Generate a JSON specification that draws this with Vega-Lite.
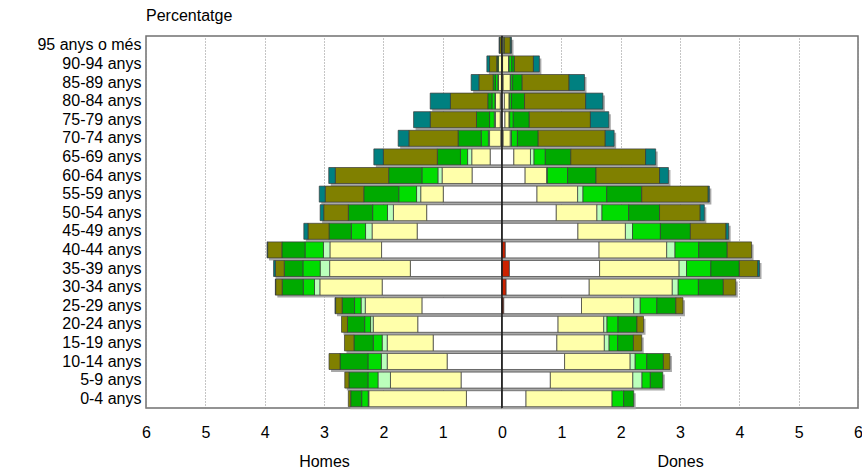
{
  "$schema": "https://vega.github.io/schema/vega-lite/v6.json",
  "padding": {"left": 5, "top": 7, "right": 5, "bottom": 0},
  "spacing": 0,
  "bounds": "flush",
  "config": {
    "font": "Liberation Sans",
    "view": {"stroke": "#707070", "strokeWidth": 1.5},
    "axis": {"labelFont": "Liberation Sans", "labelFontSize": 16, "labelColor": "#000000", "titleFont": "Liberation Sans", "titleFontSize": 16, "titleFontWeight": "normal", "titleColor": "#000000", "domain": false, "ticks": false},
    "title": {"font": "Liberation Sans", "fontSize": 16, "fontWeight": "normal", "color": "#000000"}
  },
  "datasets": {
    "pop": [
      {"age":"95 anys o més","sex":"Homes","cat":"c2","pct":0.01},
      {"age":"95 anys o més","sex":"Homes","cat":"c6","pct":0.03},
      {"age":"95 anys o més","sex":"Homes","cat":"c7","pct":0.01},
      {"age":"90-94 anys","sex":"Homes","cat":"c2","pct":0.06},
      {"age":"90-94 anys","sex":"Homes","cat":"c4","pct":0.015},
      {"age":"90-94 anys","sex":"Homes","cat":"c5","pct":0.015},
      {"age":"90-94 anys","sex":"Homes","cat":"c6","pct":0.12},
      {"age":"90-94 anys","sex":"Homes","cat":"c7","pct":0.045},
      {"age":"85-89 anys","sex":"Homes","cat":"c1","pct":0.01},
      {"age":"85-89 anys","sex":"Homes","cat":"c2","pct":0.05},
      {"age":"85-89 anys","sex":"Homes","cat":"c3","pct":0.01},
      {"age":"85-89 anys","sex":"Homes","cat":"c4","pct":0.04},
      {"age":"85-89 anys","sex":"Homes","cat":"c5","pct":0.04},
      {"age":"85-89 anys","sex":"Homes","cat":"c6","pct":0.24},
      {"age":"85-89 anys","sex":"Homes","cat":"c7","pct":0.13},
      {"age":"80-84 anys","sex":"Homes","cat":"c1","pct":0.03},
      {"age":"80-84 anys","sex":"Homes","cat":"c2","pct":0.08},
      {"age":"80-84 anys","sex":"Homes","cat":"c3","pct":0.01},
      {"age":"80-84 anys","sex":"Homes","cat":"c4","pct":0.05},
      {"age":"80-84 anys","sex":"Homes","cat":"c5","pct":0.07},
      {"age":"80-84 anys","sex":"Homes","cat":"c6","pct":0.63},
      {"age":"80-84 anys","sex":"Homes","cat":"c7","pct":0.34},
      {"age":"75-79 anys","sex":"Homes","cat":"c1","pct":0.03},
      {"age":"75-79 anys","sex":"Homes","cat":"c2","pct":0.08},
      {"age":"75-79 anys","sex":"Homes","cat":"c3","pct":0.02},
      {"age":"75-79 anys","sex":"Homes","cat":"c4","pct":0.08},
      {"age":"75-79 anys","sex":"Homes","cat":"c5","pct":0.22},
      {"age":"75-79 anys","sex":"Homes","cat":"c6","pct":0.78},
      {"age":"75-79 anys","sex":"Homes","cat":"c7","pct":0.28},
      {"age":"70-74 anys","sex":"Homes","cat":"c1","pct":0.02},
      {"age":"70-74 anys","sex":"Homes","cat":"c2","pct":0.19},
      {"age":"70-74 anys","sex":"Homes","cat":"c3","pct":0.02},
      {"age":"70-74 anys","sex":"Homes","cat":"c4","pct":0.12},
      {"age":"70-74 anys","sex":"Homes","cat":"c5","pct":0.39},
      {"age":"70-74 anys","sex":"Homes","cat":"c6","pct":0.83},
      {"age":"70-74 anys","sex":"Homes","cat":"c7","pct":0.18},
      {"age":"65-69 anys","sex":"Homes","cat":"c1","pct":0.20},
      {"age":"65-69 anys","sex":"Homes","cat":"c2","pct":0.31},
      {"age":"65-69 anys","sex":"Homes","cat":"c3","pct":0.07},
      {"age":"65-69 anys","sex":"Homes","cat":"c4","pct":0.12},
      {"age":"65-69 anys","sex":"Homes","cat":"c5","pct":0.39},
      {"age":"65-69 anys","sex":"Homes","cat":"c6","pct":0.91},
      {"age":"65-69 anys","sex":"Homes","cat":"c7","pct":0.16},
      {"age":"60-64 anys","sex":"Homes","cat":"c1","pct":0.505},
      {"age":"60-64 anys","sex":"Homes","cat":"c2","pct":0.505},
      {"age":"60-64 anys","sex":"Homes","cat":"c3","pct":0.07},
      {"age":"60-64 anys","sex":"Homes","cat":"c4","pct":0.27},
      {"age":"60-64 anys","sex":"Homes","cat":"c5","pct":0.56},
      {"age":"60-64 anys","sex":"Homes","cat":"c6","pct":0.90},
      {"age":"60-64 anys","sex":"Homes","cat":"c7","pct":0.11},
      {"age":"55-59 anys","sex":"Homes","cat":"c1","pct":0.99},
      {"age":"55-59 anys","sex":"Homes","cat":"c2","pct":0.38},
      {"age":"55-59 anys","sex":"Homes","cat":"c3","pct":0.07},
      {"age":"55-59 anys","sex":"Homes","cat":"c4","pct":0.30},
      {"age":"55-59 anys","sex":"Homes","cat":"c5","pct":0.59},
      {"age":"55-59 anys","sex":"Homes","cat":"c6","pct":0.65},
      {"age":"55-59 anys","sex":"Homes","cat":"c7","pct":0.10},
      {"age":"50-54 anys","sex":"Homes","cat":"c1","pct":1.27},
      {"age":"50-54 anys","sex":"Homes","cat":"c2","pct":0.56},
      {"age":"50-54 anys","sex":"Homes","cat":"c3","pct":0.10},
      {"age":"50-54 anys","sex":"Homes","cat":"c4","pct":0.25},
      {"age":"50-54 anys","sex":"Homes","cat":"c5","pct":0.41},
      {"age":"50-54 anys","sex":"Homes","cat":"c6","pct":0.415},
      {"age":"50-54 anys","sex":"Homes","cat":"c7","pct":0.06},
      {"age":"45-49 anys","sex":"Homes","cat":"c1","pct":1.43},
      {"age":"45-49 anys","sex":"Homes","cat":"c2","pct":0.76},
      {"age":"45-49 anys","sex":"Homes","cat":"c3","pct":0.11},
      {"age":"45-49 anys","sex":"Homes","cat":"c4","pct":0.24},
      {"age":"45-49 anys","sex":"Homes","cat":"c5","pct":0.375},
      {"age":"45-49 anys","sex":"Homes","cat":"c6","pct":0.355},
      {"age":"45-49 anys","sex":"Homes","cat":"c7","pct":0.07},
      {"age":"40-44 anys","sex":"Homes","cat":"c1","pct":2.03},
      {"age":"40-44 anys","sex":"Homes","cat":"c2","pct":0.87},
      {"age":"40-44 anys","sex":"Homes","cat":"c3","pct":0.11},
      {"age":"40-44 anys","sex":"Homes","cat":"c4","pct":0.31},
      {"age":"40-44 anys","sex":"Homes","cat":"c5","pct":0.39},
      {"age":"40-44 anys","sex":"Homes","cat":"c6","pct":0.24},
      {"age":"40-44 anys","sex":"Homes","cat":"c7","pct":0.01},
      {"age":"35-39 anys","sex":"Homes","cat":"c1","pct":1.545},
      {"age":"35-39 anys","sex":"Homes","cat":"c2","pct":1.36},
      {"age":"35-39 anys","sex":"Homes","cat":"c3","pct":0.16},
      {"age":"35-39 anys","sex":"Homes","cat":"c4","pct":0.29},
      {"age":"35-39 anys","sex":"Homes","cat":"c5","pct":0.315},
      {"age":"35-39 anys","sex":"Homes","cat":"c6","pct":0.15},
      {"age":"35-39 anys","sex":"Homes","cat":"c7","pct":0.03},
      {"age":"30-34 anys","sex":"Homes","cat":"c1","pct":2.02},
      {"age":"30-34 anys","sex":"Homes","cat":"c2","pct":1.05},
      {"age":"30-34 anys","sex":"Homes","cat":"c3","pct":0.09},
      {"age":"30-34 anys","sex":"Homes","cat":"c4","pct":0.19},
      {"age":"30-34 anys","sex":"Homes","cat":"c5","pct":0.355},
      {"age":"30-34 anys","sex":"Homes","cat":"c6","pct":0.11},
      {"age":"30-34 anys","sex":"Homes","cat":"c7","pct":0.005},
      {"age":"25-29 anys","sex":"Homes","cat":"c1","pct":1.35},
      {"age":"25-29 anys","sex":"Homes","cat":"c2","pct":0.955},
      {"age":"25-29 anys","sex":"Homes","cat":"c3","pct":0.07},
      {"age":"25-29 anys","sex":"Homes","cat":"c4","pct":0.11},
      {"age":"25-29 anys","sex":"Homes","cat":"c5","pct":0.21},
      {"age":"25-29 anys","sex":"Homes","cat":"c6","pct":0.11},
      {"age":"25-29 anys","sex":"Homes","cat":"c7","pct":0.01},
      {"age":"20-24 anys","sex":"Homes","cat":"c1","pct":1.42},
      {"age":"20-24 anys","sex":"Homes","cat":"c2","pct":0.75},
      {"age":"20-24 anys","sex":"Homes","cat":"c3","pct":0.045},
      {"age":"20-24 anys","sex":"Homes","cat":"c4","pct":0.10},
      {"age":"20-24 anys","sex":"Homes","cat":"c5","pct":0.29},
      {"age":"20-24 anys","sex":"Homes","cat":"c6","pct":0.10},
      {"age":"15-19 anys","sex":"Homes","cat":"c1","pct":1.16},
      {"age":"15-19 anys","sex":"Homes","cat":"c2","pct":0.775},
      {"age":"15-19 anys","sex":"Homes","cat":"c3","pct":0.085},
      {"age":"15-19 anys","sex":"Homes","cat":"c4","pct":0.15},
      {"age":"15-19 anys","sex":"Homes","cat":"c5","pct":0.325},
      {"age":"15-19 anys","sex":"Homes","cat":"c6","pct":0.16},
      {"age":"10-14 anys","sex":"Homes","cat":"c1","pct":0.925},
      {"age":"10-14 anys","sex":"Homes","cat":"c2","pct":1.01},
      {"age":"10-14 anys","sex":"Homes","cat":"c3","pct":0.10},
      {"age":"10-14 anys","sex":"Homes","cat":"c4","pct":0.225},
      {"age":"10-14 anys","sex":"Homes","cat":"c5","pct":0.47},
      {"age":"10-14 anys","sex":"Homes","cat":"c6","pct":0.185},
      {"age":"5-9 anys","sex":"Homes","cat":"c1","pct":0.69},
      {"age":"5-9 anys","sex":"Homes","cat":"c2","pct":1.19},
      {"age":"5-9 anys","sex":"Homes","cat":"c3","pct":0.21},
      {"age":"5-9 anys","sex":"Homes","cat":"c4","pct":0.17},
      {"age":"5-9 anys","sex":"Homes","cat":"c5","pct":0.32},
      {"age":"5-9 anys","sex":"Homes","cat":"c6","pct":0.07},
      {"age":"0-4 anys","sex":"Homes","cat":"c1","pct":0.60},
      {"age":"0-4 anys","sex":"Homes","cat":"c2","pct":1.645},
      {"age":"0-4 anys","sex":"Homes","cat":"c3","pct":0.01},
      {"age":"0-4 anys","sex":"Homes","cat":"c4","pct":0.11},
      {"age":"0-4 anys","sex":"Homes","cat":"c5","pct":0.185},
      {"age":"0-4 anys","sex":"Homes","cat":"c6","pct":0.04},

      {"age":"95 anys o més","sex":"Dones","cat":"c2","pct":0.03},
      {"age":"95 anys o més","sex":"Dones","cat":"c4","pct":0.01},
      {"age":"95 anys o més","sex":"Dones","cat":"c6","pct":0.10},
      {"age":"95 anys o més","sex":"Dones","cat":"c7","pct":0.02},
      {"age":"90-94 anys","sex":"Dones","cat":"c1","pct":0.01},
      {"age":"90-94 anys","sex":"Dones","cat":"c2","pct":0.10},
      {"age":"90-94 anys","sex":"Dones","cat":"c3","pct":0.01},
      {"age":"90-94 anys","sex":"Dones","cat":"c4","pct":0.045},
      {"age":"90-94 anys","sex":"Dones","cat":"c5","pct":0.045},
      {"age":"90-94 anys","sex":"Dones","cat":"c6","pct":0.32},
      {"age":"90-94 anys","sex":"Dones","cat":"c7","pct":0.10},
      {"age":"85-89 anys","sex":"Dones","cat":"c1","pct":0.02},
      {"age":"85-89 anys","sex":"Dones","cat":"c2","pct":0.12},
      {"age":"85-89 anys","sex":"Dones","cat":"c3","pct":0.01},
      {"age":"85-89 anys","sex":"Dones","cat":"c4","pct":0.03},
      {"age":"85-89 anys","sex":"Dones","cat":"c5","pct":0.16},
      {"age":"85-89 anys","sex":"Dones","cat":"c6","pct":0.79},
      {"age":"85-89 anys","sex":"Dones","cat":"c7","pct":0.26},
      {"age":"80-84 anys","sex":"Dones","cat":"c1","pct":0.04},
      {"age":"80-84 anys","sex":"Dones","cat":"c2","pct":0.08},
      {"age":"80-84 anys","sex":"Dones","cat":"c3","pct":0.01},
      {"age":"80-84 anys","sex":"Dones","cat":"c4","pct":0.03},
      {"age":"80-84 anys","sex":"Dones","cat":"c5","pct":0.22},
      {"age":"80-84 anys","sex":"Dones","cat":"c6","pct":1.03},
      {"age":"80-84 anys","sex":"Dones","cat":"c7","pct":0.29},
      {"age":"75-79 anys","sex":"Dones","cat":"c1","pct":0.05},
      {"age":"75-79 anys","sex":"Dones","cat":"c2","pct":0.07},
      {"age":"75-79 anys","sex":"Dones","cat":"c3","pct":0.01},
      {"age":"75-79 anys","sex":"Dones","cat":"c4","pct":0.06},
      {"age":"75-79 anys","sex":"Dones","cat":"c5","pct":0.27},
      {"age":"75-79 anys","sex":"Dones","cat":"c6","pct":1.03},
      {"age":"75-79 anys","sex":"Dones","cat":"c7","pct":0.31},
      {"age":"70-74 anys","sex":"Dones","cat":"c1","pct":0.02},
      {"age":"70-74 anys","sex":"Dones","cat":"c2","pct":0.12},
      {"age":"70-74 anys","sex":"Dones","cat":"c3","pct":0.02},
      {"age":"70-74 anys","sex":"Dones","cat":"c4","pct":0.10},
      {"age":"70-74 anys","sex":"Dones","cat":"c5","pct":0.35},
      {"age":"70-74 anys","sex":"Dones","cat":"c6","pct":1.13},
      {"age":"70-74 anys","sex":"Dones","cat":"c7","pct":0.15},
      {"age":"65-69 anys","sex":"Dones","cat":"c1","pct":0.20},
      {"age":"65-69 anys","sex":"Dones","cat":"c2","pct":0.28},
      {"age":"65-69 anys","sex":"Dones","cat":"c3","pct":0.06},
      {"age":"65-69 anys","sex":"Dones","cat":"c4","pct":0.19},
      {"age":"65-69 anys","sex":"Dones","cat":"c5","pct":0.43},
      {"age":"65-69 anys","sex":"Dones","cat":"c6","pct":1.26},
      {"age":"65-69 anys","sex":"Dones","cat":"c7","pct":0.17},
      {"age":"60-64 anys","sex":"Dones","cat":"c1","pct":0.39},
      {"age":"60-64 anys","sex":"Dones","cat":"c2","pct":0.365},
      {"age":"60-64 anys","sex":"Dones","cat":"c3","pct":0.01},
      {"age":"60-64 anys","sex":"Dones","cat":"c4","pct":0.34},
      {"age":"60-64 anys","sex":"Dones","cat":"c5","pct":0.48},
      {"age":"60-64 anys","sex":"Dones","cat":"c6","pct":1.07},
      {"age":"60-64 anys","sex":"Dones","cat":"c7","pct":0.15},
      {"age":"55-59 anys","sex":"Dones","cat":"c1","pct":0.59},
      {"age":"55-59 anys","sex":"Dones","cat":"c2","pct":0.685},
      {"age":"55-59 anys","sex":"Dones","cat":"c3","pct":0.09},
      {"age":"55-59 anys","sex":"Dones","cat":"c4","pct":0.40},
      {"age":"55-59 anys","sex":"Dones","cat":"c5","pct":0.59},
      {"age":"55-59 anys","sex":"Dones","cat":"c6","pct":1.12},
      {"age":"55-59 anys","sex":"Dones","cat":"c7","pct":0.02},
      {"age":"50-54 anys","sex":"Dones","cat":"c1","pct":0.915},
      {"age":"50-54 anys","sex":"Dones","cat":"c2","pct":0.685},
      {"age":"50-54 anys","sex":"Dones","cat":"c3","pct":0.085},
      {"age":"50-54 anys","sex":"Dones","cat":"c4","pct":0.45},
      {"age":"50-54 anys","sex":"Dones","cat":"c5","pct":0.52},
      {"age":"50-54 anys","sex":"Dones","cat":"c6","pct":0.685},
      {"age":"50-54 anys","sex":"Dones","cat":"c7","pct":0.07},
      {"age":"45-49 anys","sex":"Dones","cat":"c1","pct":1.28},
      {"age":"45-49 anys","sex":"Dones","cat":"c2","pct":0.80},
      {"age":"45-49 anys","sex":"Dones","cat":"c3","pct":0.12},
      {"age":"45-49 anys","sex":"Dones","cat":"c4","pct":0.47},
      {"age":"45-49 anys","sex":"Dones","cat":"c5","pct":0.505},
      {"age":"45-49 anys","sex":"Dones","cat":"c6","pct":0.60},
      {"age":"45-49 anys","sex":"Dones","cat":"c7","pct":0.045},
      {"age":"40-44 anys","sex":"Dones","cat":"c0","pct":0.056},
      {"age":"40-44 anys","sex":"Dones","cat":"c1","pct":1.58},
      {"age":"40-44 anys","sex":"Dones","cat":"c2","pct":1.14},
      {"age":"40-44 anys","sex":"Dones","cat":"c3","pct":0.14},
      {"age":"40-44 anys","sex":"Dones","cat":"c4","pct":0.40},
      {"age":"40-44 anys","sex":"Dones","cat":"c5","pct":0.48},
      {"age":"40-44 anys","sex":"Dones","cat":"c6","pct":0.41},
      {"age":"35-39 anys","sex":"Dones","cat":"c0","pct":0.125},
      {"age":"35-39 anys","sex":"Dones","cat":"c1","pct":1.52},
      {"age":"35-39 anys","sex":"Dones","cat":"c2","pct":1.34},
      {"age":"35-39 anys","sex":"Dones","cat":"c3","pct":0.125},
      {"age":"35-39 anys","sex":"Dones","cat":"c4","pct":0.41},
      {"age":"35-39 anys","sex":"Dones","cat":"c5","pct":0.48},
      {"age":"35-39 anys","sex":"Dones","cat":"c6","pct":0.31},
      {"age":"35-39 anys","sex":"Dones","cat":"c7","pct":0.03},
      {"age":"30-34 anys","sex":"Dones","cat":"c0","pct":0.07},
      {"age":"30-34 anys","sex":"Dones","cat":"c1","pct":1.40},
      {"age":"30-34 anys","sex":"Dones","cat":"c2","pct":1.40},
      {"age":"30-34 anys","sex":"Dones","cat":"c3","pct":0.10},
      {"age":"30-34 anys","sex":"Dones","cat":"c4","pct":0.34},
      {"age":"30-34 anys","sex":"Dones","cat":"c5","pct":0.42},
      {"age":"30-34 anys","sex":"Dones","cat":"c6","pct":0.21},
      {"age":"25-29 anys","sex":"Dones","cat":"c0","pct":0.03},
      {"age":"25-29 anys","sex":"Dones","cat":"c1","pct":1.31},
      {"age":"25-29 anys","sex":"Dones","cat":"c2","pct":0.88},
      {"age":"25-29 anys","sex":"Dones","cat":"c3","pct":0.11},
      {"age":"25-29 anys","sex":"Dones","cat":"c4","pct":0.28},
      {"age":"25-29 anys","sex":"Dones","cat":"c5","pct":0.32},
      {"age":"25-29 anys","sex":"Dones","cat":"c6","pct":0.12},
      {"age":"20-24 anys","sex":"Dones","cat":"c1","pct":0.945},
      {"age":"20-24 anys","sex":"Dones","cat":"c2","pct":0.77},
      {"age":"20-24 anys","sex":"Dones","cat":"c3","pct":0.055},
      {"age":"20-24 anys","sex":"Dones","cat":"c4","pct":0.185},
      {"age":"20-24 anys","sex":"Dones","cat":"c5","pct":0.32},
      {"age":"20-24 anys","sex":"Dones","cat":"c6","pct":0.11},
      {"age":"15-19 anys","sex":"Dones","cat":"c1","pct":0.925},
      {"age":"15-19 anys","sex":"Dones","cat":"c2","pct":0.80},
      {"age":"15-19 anys","sex":"Dones","cat":"c3","pct":0.08},
      {"age":"15-19 anys","sex":"Dones","cat":"c4","pct":0.145},
      {"age":"15-19 anys","sex":"Dones","cat":"c5","pct":0.265},
      {"age":"15-19 anys","sex":"Dones","cat":"c6","pct":0.14},
      {"age":"10-14 anys","sex":"Dones","cat":"c1","pct":1.055},
      {"age":"10-14 anys","sex":"Dones","cat":"c2","pct":1.105},
      {"age":"10-14 anys","sex":"Dones","cat":"c3","pct":0.085},
      {"age":"10-14 anys","sex":"Dones","cat":"c4","pct":0.195},
      {"age":"10-14 anys","sex":"Dones","cat":"c5","pct":0.28},
      {"age":"10-14 anys","sex":"Dones","cat":"c6","pct":0.11},
      {"age":"5-9 anys","sex":"Dones","cat":"c1","pct":0.815},
      {"age":"5-9 anys","sex":"Dones","cat":"c2","pct":1.39},
      {"age":"5-9 anys","sex":"Dones","cat":"c3","pct":0.155},
      {"age":"5-9 anys","sex":"Dones","cat":"c4","pct":0.14},
      {"age":"5-9 anys","sex":"Dones","cat":"c5","pct":0.21},
      {"age":"0-4 anys","sex":"Dones","cat":"c1","pct":0.405},
      {"age":"0-4 anys","sex":"Dones","cat":"c2","pct":1.45},
      {"age":"0-4 anys","sex":"Dones","cat":"c4","pct":0.195},
      {"age":"0-4 anys","sex":"Dones","cat":"c5","pct":0.17}
    ]
  },
  "hconcat": [
    {
      "width": 356,
      "height": 372,
      "title": {"text": "Percentatge", "anchor": "start", "frame": "group", "offset": 11},
      "layer": [
        {
          "data": {"name": "pop"},
          "transform": [{"filter": "datum.sex === 'Homes'"}],
          "mark": {"type": "bar", "color": "#a8a8a8", "xOffset": 2, "yOffset": 2.5},
          "encoding": {
            "y": {
              "field": "age", "type": "nominal",
              "sort": ["95 anys o més","90-94 anys","85-89 anys","80-84 anys","75-79 anys","70-74 anys","65-69 anys","60-64 anys","55-59 anys","50-54 anys","45-49 anys","40-44 anys","35-39 anys","30-34 anys","25-29 anys","20-24 anys","15-19 anys","10-14 anys","5-9 anys","0-4 anys"],
              "scale": {"paddingInner": 0.14, "paddingOuter": 0.07},
              "axis": {"title": null, "labelPadding": 5, "minExtent": 140, "grid": false}
            },
            "x": {"aggregate": "sum", "field": "pct", "type": "quantitative",
                  "scale": {"domain": [0, 6], "reverse": true, "nice": false},
                  "axis": {"title": "Homes", "values": [0,1,2,3,4,5,6], "format": "d", "labelFlush": false, "labelPadding": 16, "titlePadding": 13, "grid": true, "gridDash": [1, 2], "gridColor": "#8a8a8a", "gridWidth": 1}}
          }
        },
        {
          "data": {"name": "pop"},
          "transform": [{"filter": "datum.sex === 'Homes'"}],
          "mark": {"type": "bar", "stroke": "#3a3a3a", "strokeWidth": 0.7},
          "encoding": {
            "y": {
              "field": "age", "type": "nominal",
              "sort": ["95 anys o més","90-94 anys","85-89 anys","80-84 anys","75-79 anys","70-74 anys","65-69 anys","60-64 anys","55-59 anys","50-54 anys","45-49 anys","40-44 anys","35-39 anys","30-34 anys","25-29 anys","20-24 anys","15-19 anys","10-14 anys","5-9 anys","0-4 anys"]
            },
            "x": {"field": "pct", "type": "quantitative", "stack": "zero"},
            "color": {"field": "cat", "type": "nominal", "legend": null,
                      "scale": {"domain": ["c0","c1","c2","c3","c4","c5","c6","c7"], "range": ["#cc2200","#ffffff","#ffffaa","#bbffbb","#00dd00","#00aa00","#808000","#008080"]}}
          }
        },
        {
          "data": {"values": [{"zero": 0}]},
          "mark": {"type": "rule", "color": "#1a1a1a", "strokeWidth": 1.5},
          "encoding": {"x": {"field": "zero", "type": "quantitative"}}
        }
      ]
    },
    {
      "width": 356,
      "height": 372,
      "layer": [
        {
          "data": {"name": "pop"},
          "transform": [{"filter": "datum.sex === 'Dones'"}],
          "mark": {"type": "bar", "color": "#a8a8a8", "xOffset": 2, "yOffset": 2.5},
          "encoding": {
            "y": {
              "field": "age", "type": "nominal",
              "sort": ["95 anys o més","90-94 anys","85-89 anys","80-84 anys","75-79 anys","70-74 anys","65-69 anys","60-64 anys","55-59 anys","50-54 anys","45-49 anys","40-44 anys","35-39 anys","30-34 anys","25-29 anys","20-24 anys","15-19 anys","10-14 anys","5-9 anys","0-4 anys"],
              "scale": {"paddingInner": 0.14, "paddingOuter": 0.07},
              "axis": null
            },
            "x": {"aggregate": "sum", "field": "pct", "type": "quantitative",
                  "scale": {"domain": [0, 6], "nice": false},
                  "axis": {"title": "Dones", "values": [1,2,3,4,5,6], "format": "d", "labelFlush": false, "labelPadding": 16, "titlePadding": 13, "grid": true, "gridDash": [1, 2], "gridColor": "#8a8a8a", "gridWidth": 1}}
          }
        },
        {
          "data": {"name": "pop"},
          "transform": [{"filter": "datum.sex === 'Dones'"}],
          "mark": {"type": "bar", "stroke": "#3a3a3a", "strokeWidth": 0.7},
          "encoding": {
            "y": {
              "field": "age", "type": "nominal",
              "sort": ["95 anys o més","90-94 anys","85-89 anys","80-84 anys","75-79 anys","70-74 anys","65-69 anys","60-64 anys","55-59 anys","50-54 anys","45-49 anys","40-44 anys","35-39 anys","30-34 anys","25-29 anys","20-24 anys","15-19 anys","10-14 anys","5-9 anys","0-4 anys"]
            },
            "x": {"field": "pct", "type": "quantitative", "stack": "zero"},
            "color": {"field": "cat", "type": "nominal", "legend": null,
                      "scale": {"domain": ["c0","c1","c2","c3","c4","c5","c6","c7"], "range": ["#cc2200","#ffffff","#ffffaa","#bbffbb","#00dd00","#00aa00","#808000","#008080"]}}
          }
        },
        {
          "data": {"values": [{"zero": 0}]},
          "mark": {"type": "rule", "color": "#1a1a1a", "strokeWidth": 1.5},
          "encoding": {"x": {"field": "zero", "type": "quantitative"}}
        }
      ]
    }
  ]
}
